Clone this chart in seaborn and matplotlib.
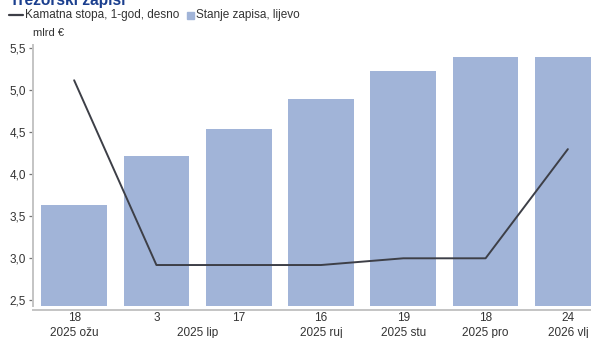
import numpy as np
import pandas as pd
import matplotlib
matplotlib.use("Agg")
import matplotlib.pyplot as plt
from matplotlib.lines import Line2D
from matplotlib.patches import Rectangle
import matplotlib.transforms as mtransforms
import seaborn as sns

# Auction dates (day labels) and the month groups they belong to
day_labels = ["18", "3", "17", "16", "19", "18", "24"]
month_labels = ["2025 ožu", "2025 lip", "2025 ruj", "2025 stu", "2025 pro", "2026 vlj"]
month_positions = [0, 1.5, 3, 4, 5, 6]

# Outstanding treasury bills, bn EUR (left axis)
stock_bn = [3.63, 4.22, 4.54, 4.90, 5.23, 5.40, 5.40]
# 1-year interest rate, % (right axis)
rate_1y = [2.81, 1.71, 1.71, 1.71, 1.75, 1.75, 2.40]

y_ticks = [2.5, 3.0, 3.5, 4.0, 4.5, 5.0, 5.5]

BAR_COLOR = "#a1b4d8"
LINE_COLOR = "#3d3f47"
TEXT_COLOR = "#333333"
AXIS_COLOR = "#c4c4c4"
FS = 8.5

sns.set_theme(style="white")
plt.rcParams["font.family"] = ["Liberation Sans", "DejaVu Sans"]

W, H = 591, 338
fig = plt.figure(figsize=(W / 100, H / 100), dpi=100)

# Axes runs past the right edge of the figure
left_px, right_px, top_px, bottom_px = 33, 609, 45, 306
ax = fig.add_axes([left_px / W, 1 - bottom_px / H,
                   (right_px - left_px) / W, (bottom_px - top_px) / H])

df = pd.DataFrame({"pos": np.arange(len(day_labels)), "stock": stock_bn})
sns.barplot(data=df, x="pos", y="stock", ax=ax, color=BAR_COLOR,
            width=0.8, linewidth=0, saturation=1, native_scale=False)

ax.set_xlim(-0.5, len(day_labels) - 0.5)
ax.set_ylim(2.432, 5.54)
ax.set_yticks(y_ticks)
ax.set_yticklabels([f"{v:.1f}".replace(".", ",") for v in y_ticks])
ax.set_xlabel("")
ax.set_ylabel("")

# Day labels under each bar, separators at category boundaries
ax.set_xticks(np.arange(len(day_labels)))
ax.set_xticklabels(day_labels)
ax.tick_params(axis="x", which="major", length=0, pad=1.5,
               labelsize=FS, labelcolor=TEXT_COLOR)
ax.set_xticks(np.arange(len(day_labels) + 1) - 0.5, minor=True)
ax.tick_params(axis="x", which="minor", length=3.5, width=0.9,
               color="#555555", direction="out")
ax.tick_params(axis="y", length=3, width=0.9, color="#777777",
               direction="out", labelsize=FS, labelcolor=TEXT_COLOR, pad=2)

for side in ["top", "right"]:
    ax.spines[side].set_visible(False)
for side in ["left", "bottom"]:
    ax.spines[side].set_color(AXIS_COLOR)
    ax.spines[side].set_linewidth(1.4)
ax.spines["bottom"].set_position(("outward", 3))

# Month group labels on a second row
trans = mtransforms.blended_transform_factory(ax.transData, fig.transFigure)
for pos, lab in zip(month_positions, month_labels):
    ax.text(pos, 1 - 333 / H, lab, transform=trans, ha="center", va="center",
            fontsize=FS, color=TEXT_COLOR)

# Interest rate on a hidden right axis
ax2 = ax.twinx()
sns.lineplot(x=np.arange(len(rate_1y)), y=rate_1y, ax=ax2,
             color=LINE_COLOR, linewidth=1.4)
ax2.set_ylim(1.466, 3.02)
ax2.set_yticks([])
ax2.set_ylabel("")
for side in ax2.spines:
    ax2.spines[side].set_visible(False)

# Title, legend and unit label
fig.text(10 / W, 1 - 5 / H, "Trezorski zapisi", fontsize=11.2,
         fontweight="bold", color="#1b3f8e", ha="left", va="baseline")

leg_y = 1 - 15 / H
fig.add_artist(Line2D([9 / W, 23 / W], [leg_y, leg_y], color=LINE_COLOR,
                      linewidth=1.6, transform=fig.transFigure))
fig.text(25 / W, leg_y, "Kamatna stopa, 1-god, desno", fontsize=FS,
         color=TEXT_COLOR, ha="left", va="center")
fig.add_artist(Rectangle((187 / W, leg_y - 3.5 / H), 6.5 / W, 7 / H,
                         color=BAR_COLOR, transform=fig.transFigure))
fig.text(196 / W, leg_y, "Stanje zapisa, lijevo", fontsize=FS,
         color=TEXT_COLOR, ha="left", va="center")

fig.text(33 / W, 1 - 33 / H, "mlrd €", fontsize=8, color=TEXT_COLOR,
         ha="left", va="center")

fig.savefig("out.png", dpi=100)
